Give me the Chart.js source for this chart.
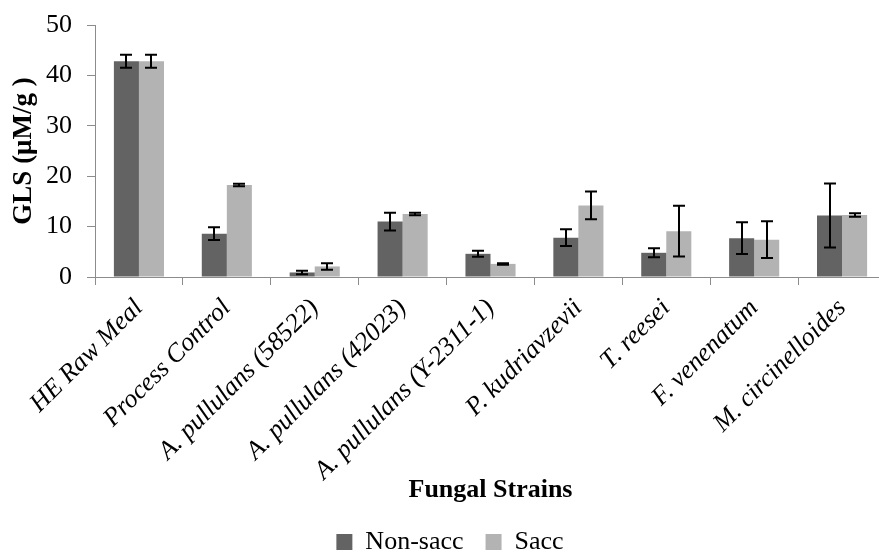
<!DOCTYPE html>
<html>
<head>
<meta charset="utf-8">
<script src="https://cdn.jsdelivr.net/npm/chart.js@4/dist/chart.umd.min.js"></script>
<style>
  html, body { margin: 0; padding: 0; background: #fff; overflow: hidden; }
  #wrap { width: 879px; height: 553px; overflow: hidden; position: relative; }
  canvas { display: block; }
</style>
</head>
<body>
<div id="wrap"><canvas id="c" width="890" height="553"></canvas></div>
<script>
const categories = ['HE Raw Meal', 'Process Control', 'A. pullulans (58522)', 'A. pullulans (42023)',
  'A. pullulans (Y-2311-1)', 'P. kudriavzevii', 'T. reesei', 'F. venenatum', 'M. circinelloides'];
const nonSacc    = [42.8, 8.6, 0.9, 11.0, 4.6, 7.8, 4.8, 7.7, 12.2];
const nonSaccErr = [1.3, 1.25, 0.35, 1.75, 0.6, 1.65, 0.9, 3.15, 6.35];
const sacc       = [42.8, 18.25, 2.1, 12.5, 2.6, 14.2, 9.1, 7.4, 12.3];
const saccErr    = [1.3, 0.25, 0.65, 0.25, 0.15, 2.75, 5.05, 3.65, 0.35];
const seriesNames = ['Non-sacc', 'Sacc'];
const yTicks = [0, 10, 20, 30, 40, 50];

const FONT = "'Liberation Serif', 'Times New Roman', serif";
const errors = [nonSaccErr, saccErr];

const errorBars = {
  id: 'errorBars',
  afterDatasetsDraw(chart) {
    const ctx = chart.ctx;
    const y = chart.scales.y;
    ctx.save();
    ctx.strokeStyle = '#000';
    ctx.lineWidth = 2;
    chart.data.datasets.forEach((ds, i) => {
      const meta = chart.getDatasetMeta(i);
      meta.data.forEach((bar, j) => {
        const v = ds.data[j], e = errors[i][j];
        const x = Math.round(bar.x);
        const yt = y.getPixelForValue(v + e);
        const yb = y.getPixelForValue(v - e);
        ctx.beginPath();
        ctx.moveTo(x, yt); ctx.lineTo(x, yb);
        ctx.moveTo(x - 6, yt); ctx.lineTo(x + 6, yt);
        ctx.moveTo(x - 6, yb); ctx.lineTo(x + 6, yb);
        ctx.stroke();
      });
    });
    ctx.restore();
  }
};

const legendShift = {
  id: 'legendShift',
  afterLayout(chart) {
    const lg = chart.legend;
    if (!lg) return;
    lg.top += 12; lg.bottom += 12;
    lg.left += 7; lg.right += 7;
  }
};

new Chart(document.getElementById('c'), {
  type: 'bar',
  data: {
    labels: categories,
    datasets: [
      { label: seriesNames[0], data: nonSacc, backgroundColor: '#636363', borderWidth: 0 },
      { label: seriesNames[1], data: sacc, backgroundColor: '#b3b3b3', borderWidth: 0 }
    ]
  },
  options: {
    responsive: false,
    animation: false,
    devicePixelRatio: 1,
    layout: { padding: { top: 25, right: 4, left: 0, bottom: 0 } },
    datasets: { bar: { categoryPercentage: 0.57, barPercentage: 1.0 } },
    plugins: {
      legend: {
        position: 'bottom',
        labels: {
          font: { family: FONT, size: 26 },
          color: '#000',
          boxWidth: 16,
          boxHeight: 16,
          padding: 22
        }
      },
      tooltip: { enabled: false }
    },
    scales: {
      x: {
        afterFit(s) { s.height = 218; },
        grid: { display: true, drawOnChartArea: false, drawTicks: true, tickLength: 8, color: '#8c8c8c', offset: true },
        border: { display: true, color: '#8c8c8c', width: 1 },
        ticks: {
          autoSkip: false, maxRotation: 45, minRotation: 45, padding: 8,
          color: '#000', font: { family: FONT, size: 26, style: 'italic' }
        },
        title: {
          display: true, text: 'Fungal Strains', color: '#000',
          font: { family: FONT, size: 26, weight: 'bold' },
          padding: { top: 0, bottom: -11 }
        }
      },
      y: {
        min: 0, max: 50,
        afterFit(s) { s.width = 95; s.paddingTop = 14; s.paddingBottom = 14; },
        afterBuildTicks(s) { s.ticks = yTicks.map(v => ({ value: v })); },
        grid: { display: true, drawOnChartArea: false, drawTicks: true, tickLength: 8, color: '#8c8c8c' },
        border: { display: true, color: '#8c8c8c', width: 1 },
        ticks: { padding: 15, color: '#000', font: { family: FONT, size: 26 } },
        title: {
          display: true, text: 'GLS (μM/g )', color: '#000',
          font: { family: FONT, size: 27, weight: 'bold' },
          padding: { top: 8, bottom: 0 }
        }
      }
    }
  },
  plugins: [errorBars, legendShift]
});
</script>
</body>
</html>
